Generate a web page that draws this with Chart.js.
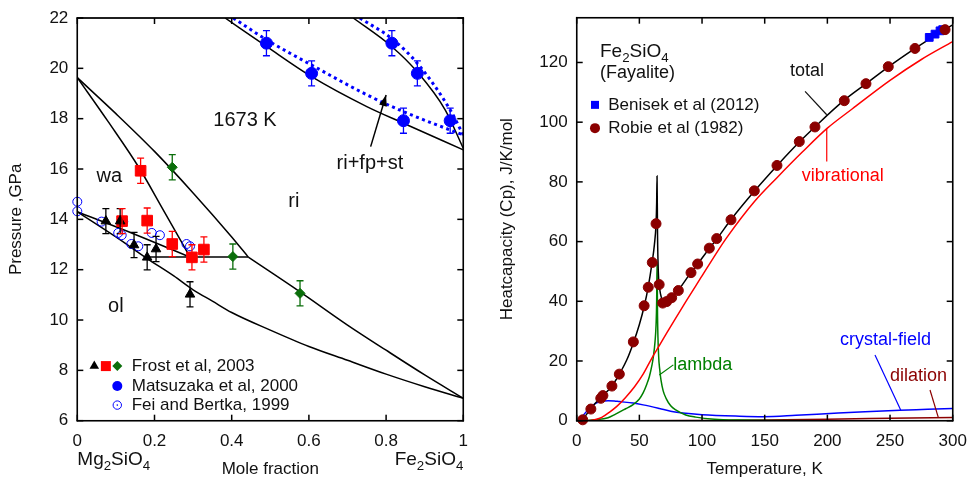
<!DOCTYPE html>
<html><head><meta charset="utf-8">
<script src="https://cdn.jsdelivr.net/npm/chart.js@4.4.0/dist/chart.umd.min.js"></script>
<style>
html,body{margin:0;padding:0;background:#fff;}
#wrap{position:relative;width:968px;height:478px;overflow:hidden;background:#fff;}
#c1{position:absolute;left:0;top:0;}
#c2{position:absolute;left:480px;top:0;}
</style></head><body>
<div id="wrap"><canvas id="c1" width="480" height="478"></canvas><canvas id="c2" width="488" height="478"></canvas></div>
<script>
// ---------- LEFT PANEL DATA (mole fraction Fe2SiO4, pressure GPa) ----------
const xTicksL = [0, 0.2, 0.4, 0.6, 0.8, 1];
const yTicksL = [6, 8, 10, 12, 14, 16, 18, 20, 22];
const frostTriX = [0.074, 0.111, 0.147, 0.181, 0.204, 0.292];
const frostTriP = [13.93, 13.93, 12.98, 12.49, 12.82, 11.02];
const frostTriErr = [0.5, 0.5, 0.5, 0.5, 0.5, 0.5];
const frostSqX = [0.116, 0.164, 0.181, 0.246, 0.297, 0.328];
const frostSqP = [13.93, 15.93, 13.95, 13.02, 12.49, 12.80];
const frostSqErr = [0.5, 0.5, 0.5, 0.5, 0.5, 0.5];
const frostDiaX = [0.246, 0.403, 0.577];
const frostDiaP = [16.07, 12.52, 11.06];
const frostDiaErr = [0.5, 0.5, 0.5];
const matsuX = [0.49, 0.607, 0.845, 0.815, 0.881, 0.966];
const matsuP = [21.0, 19.8, 17.92, 21.0, 19.8, 17.92];
const matsuErr = [0.5, 0.5, 0.5, 0.5, 0.5, 0.5];
const feiX = [0, 0, 0.063, 0.119, 0.106, 0.115, 0.140, 0.158, 0.193, 0.214, 0.283, 0.292];
const feiP = [14.7, 14.32, 13.91, 13.91, 13.46, 13.37, 13.02, 12.93, 13.46, 13.37, 13.02, 12.93];
// phase boundaries
const waRiUpperX = [0, 0.1, 0.2, 0.3, 0.4, 0.443];
const waRiUpperP = [19.63, 18.2, 16.7, 15.05, 13.3, 12.5];
const waRiLowerX = [0, 0.08, 0.16, 0.22, 0.292];
const waRiLowerP = [19.63, 17.88, 16.05, 14.45, 12.5];
const olWaUpperX = [0, 0.15, 0.292];
const olWaUpperP = [14.3, 13.4, 12.5];
const olLowerX = [0, 0.1, 0.18, 0.25, 0.3, 0.35, 0.4, 0.5, 0.6, 0.7, 0.8, 0.9, 1];
const olLowerP = [14.3, 13.3, 12.45, 11.75, 11.2, 10.75, 10.3, 9.6, 8.95, 8.4, 7.85, 7.35, 6.89];
const threePhaseX = [0.175, 0.443];
const threePhaseP = [12.5, 12.5];
const riBoundX = [0.443, 0.577, 0.7, 0.8, 0.9, 1];
const riBoundP = [12.5, 11.12, 9.8, 8.8, 7.82, 6.89];
const riStAX = [0.383, 0.491, 0.607, 0.75, 0.845, 1];
const riStAP = [22, 20.86, 19.67, 18.48, 17.82, 16.76];
const riStBX = [0.715, 0.815, 0.88, 0.953, 1];
const riStBP = [22, 20.86, 19.87, 18.35, 16.82];
const dotAX = [0.404, 0.491, 0.607, 0.75, 0.845, 1];
const dotAP = [22, 21.13, 20.13, 18.95, 18.28, 17.35];
const dotBX = [0.732, 0.819, 0.888, 0.966, 1];
const dotBP = [22, 21.13, 20.07, 18.35, 17.35];

// ---------- RIGHT PANEL DATA (T in K, Cp in J/K/mol) ----------
const xTicksR = [0, 50, 100, 150, 200, 250, 300];
const yTicksR = [0, 20, 40, 60, 80, 100, 120];
const robieT = [4.8, 11.3, 19.2, 20.9, 28.1, 34, 45.2, 53.8, 57.1, 60.3, 63.3, 65.8, 68.6, 71.8, 75.8, 81.1, 91.2, 96.5, 105.8, 111.7, 123.1, 141.7, 159.8, 177.6, 190.1, 213.5, 230.8, 248.6, 269.9, 293.9];
const robieCp = [0.3, 3.9, 7.5, 8.4, 11.6, 15.6, 26.4, 38.5, 44.7, 53, 66, 45.6, 39.4, 39.9, 41.2, 43.6, 49.6, 52.5, 57.8, 61, 67.3, 77, 85.5, 93.5, 98.4, 107.2, 112.9, 118.6, 124.7, 131];
const benisekT = [281.3, 285.9, 289.9, 292];
const benisekCp = [128.4, 129.5, 130.6, 131];
const totalT = [3, 5, 8, 11, 15, 20, 25, 30, 35, 40, 45, 50, 54, 57, 60, 62, 63.3, 63.8, 64.1, 64.5, 65.1, 65.8, 66.8, 68.3, 70.5, 73, 76, 81, 86, 91, 96.5, 106, 112, 123, 142, 160, 178, 190, 213, 231, 249, 270, 290, 300];
const totalCp = [0, 0.6, 2.2, 4, 5.9, 8.1, 10.1, 12.8, 16.3, 20.4, 25.8, 32.2, 38.6, 44.7, 52.5, 59, 66, 73, 82, 62, 50, 45.6, 42.6, 40.5, 39.7, 40.1, 41.2, 43.6, 46.6, 49.6, 52.5, 57.8, 61, 67.3, 77, 85.5, 93.5, 98.4, 107.2, 112.9, 118.6, 124.7, 130.1, 132.6];
const vibT = [0, 8, 15, 20, 26, 32, 39, 46, 53, 60, 66, 72, 85, 100, 112, 120, 142, 160, 180, 200, 220, 250, 275, 300];
const vibCp = [0, 0, 0.4, 1.1, 2.8, 4.8, 7.8, 11.3, 15.6, 21, 25.2, 29.5, 38.5, 48.5, 56.5, 61.5, 73.5, 81.5, 90, 98, 104.5, 114, 121, 127];
const lambdaT = [5, 15, 25, 31, 39, 45, 50, 53, 56, 58, 60, 61.2, 62.5, 63.3, 63.8, 64.1, 64.5, 65.4, 66.3, 67.3, 69, 71.3, 75, 79, 87, 95, 110, 130, 160, 200, 300];
const lambdaCp = [0, 0.3, 1, 2.2, 4, 5.4, 7.3, 9.3, 12.3, 14.8, 18.5, 21.5, 26.5, 32, 40, 53, 35, 21.5, 17, 13.5, 10, 7.5, 5, 3.6, 1.9, 1.2, 0.5, 0.2, 0.05, 0, 0];
const cfT = [2, 3, 6, 10, 15, 20, 25, 30, 34, 45, 53, 66, 75, 87, 100, 130, 149, 175, 202, 230, 258, 280, 300];
const cfCp = [0, 0.5, 2.2, 4.1, 5.8, 6.5, 6.7, 6.6, 6.4, 5.9, 5.3, 4.1, 3.2, 2.5, 2.0, 1.5, 1.35, 1.8, 2.4, 3.0, 3.5, 3.8, 4.1];
const dilT = [0, 50, 100, 150, 200, 250, 300];
const dilCp = [0, 0, 0.1, 0.25, 0.5, 0.8, 1.1];

// ---------- helpers ----------
const FONT = '"Liberation Sans", Arial, Helvetica, sans-serif';
Chart.defaults.font.family = FONT;
Chart.defaults.color = '#111';
const pts = (xs, ys) => xs.map((x, i) => ({x: x, y: ys[i]}));

function drawRich(ctx, str, x, y, size, color, align) {
  const parts = [];
  for (let i = 0; i < str.length; i++) {
    if (str[i] === '_') { parts.push({t: str[i + 1], sub: true}); i++; }
    else if (parts.length && !parts[parts.length - 1].sub) parts[parts.length - 1].t += str[i];
    else parts.push({t: str[i], sub: false});
  }
  const sub = size * 0.7;
  let w = 0;
  parts.forEach(p => { ctx.font = (p.sub ? sub : size) + 'px ' + FONT; p.w = ctx.measureText(p.t).width; w += p.w; });
  let cx = align === 'right' ? x - w : align === 'center' ? x - w / 2 : x;
  ctx.fillStyle = color; ctx.textAlign = 'left'; ctx.textBaseline = 'alphabetic';
  parts.forEach(p => { ctx.font = (p.sub ? sub : size) + 'px ' + FONT; ctx.fillText(p.t, cx, p.sub ? y + size * 0.28 : y); cx += p.w; });
}

function marker(ctx, style, x, y, r, fill, stroke) {
  ctx.save();
  ctx.beginPath();
  if (style === 'triangle') { ctx.moveTo(x, y - r); ctx.lineTo(x + r * 0.866, y + r * 0.5); ctx.lineTo(x - r * 0.866, y + r * 0.5); ctx.closePath(); }
  else if (style === 'rect') { ctx.rect(x - r, y - r, 2 * r, 2 * r); }
  else if (style === 'rectRot') { ctx.moveTo(x, y - r); ctx.lineTo(x + r, y); ctx.lineTo(x, y + r); ctx.lineTo(x - r, y); ctx.closePath(); }
  else { ctx.arc(x, y, r, 0, Math.PI * 2); }
  if (fill) { ctx.fillStyle = fill; ctx.fill(); }
  if (stroke) { ctx.strokeStyle = stroke; ctx.lineWidth = 1; ctx.stroke(); }
  ctx.restore();
}

// frame box + inward ticks on all four sides
function drawFrame(ctx, chart) {
  const a = chart.chartArea, x = chart.scales.x, y = chart.scales.y;
  const w = 1.5, h = w / 2, TL = 6;
  ctx.save();
  ctx.globalAlpha = 1; ctx.globalCompositeOperation = 'source-over'; ctx.setLineDash([]);
  ctx.fillStyle = '#000000';
  ctx.fillRect(a.left - h, a.top - h, a.right - a.left + w, w);
  ctx.fillRect(a.left - h, a.bottom - h, a.right - a.left + w, w);
  ctx.fillRect(a.left - h, a.top - h, w, a.bottom - a.top + w);
  ctx.fillRect(a.right - h, a.top - h, w, a.bottom - a.top + w);
  ctx.strokeStyle = '#000000'; ctx.lineWidth = 1;
  ctx.strokeRect(a.left, a.top, a.right - a.left, a.bottom - a.top);
  x.ticks.forEach(t => {
    const px = x.getPixelForValue(t.value);
    ctx.fillRect(px - h, a.bottom - TL, w, TL);
    ctx.fillRect(px - h, a.top, w, TL);
  });
  y.ticks.forEach(t => {
    const py = y.getPixelForValue(t.value);
    ctx.fillRect(a.left, py - h, TL, w);
    ctx.fillRect(a.right - TL, py - h, TL, w);
  });
  ctx.restore();
}

const errorBarPlugin = {
  id: 'errbars',
  afterDatasetsDraw(chart) {
    const ctx = chart.ctx, x = chart.scales.x, y = chart.scales.y;
    chart.data.datasets.forEach(ds => {
      if (!ds.errors) return;
      ctx.save(); ctx.strokeStyle = ds.errorColor; ctx.lineWidth = 1.3; ctx.setLineDash([]);
      ds.data.forEach((p, j) => {
        const e = ds.errors[j];
        const px = x.getPixelForValue(p.x), y1 = y.getPixelForValue(p.y - e), y2 = y.getPixelForValue(p.y + e);
        ctx.beginPath(); ctx.moveTo(px, y1); ctx.lineTo(px, y2);
        ctx.moveTo(px - 3.5, y1); ctx.lineTo(px + 3.5, y1); ctx.moveTo(px - 3.5, y2); ctx.lineTo(px + 3.5, y2); ctx.stroke();
      });
      ctx.restore();
    });
  }
};

function annotPlugin(drawFn) {
  return { id: 'annot', afterDraw(chart) { const ctx = chart.ctx; ctx.save(); drawFn(ctx, chart.scales.x, chart.scales.y, chart); ctx.restore(); drawFrame(ctx, chart); } };
}

function lineDS(xs, ys, color, width, extra) {
  return Object.assign({data: pts(xs, ys), showLine: true, borderColor: color, backgroundColor: color, borderWidth: width, pointRadius: 0, cubicInterpolationMode: 'monotone', order: 10}, extra || {});
}
function ptDS(xs, ys, style, r, fill, stroke, extra) {
  return Object.assign({data: pts(xs, ys), showLine: false, pointStyle: style, pointRadius: r, pointBackgroundColor: fill, pointBorderColor: stroke, pointBorderWidth: 1, clip: false, order: 1}, extra || {});
}

function scaleOpts(min, max, ticks, size, title, titlePad, isX) {
  return {
    type: 'linear', min: min, max: max,
    afterBuildTicks: s => { s.ticks = ticks.map(v => ({value: v})); },
    afterFit: s => {
      if (isX) { s.height = size; s.paddingLeft = 0; s.paddingRight = 0; }
      else { s.width = size; s.paddingTop = 0; s.paddingBottom = 0; }
    },
    grid: {display: false, drawTicks: false}, border: {display: false},
    ticks: {padding: isX ? 10 : 9, color: '#111', font: {size: 17}, maxRotation: 0, autoSkip: false, callback: v => String(v)},
    title: {display: true, text: title, color: '#111', font: {size: 17, lineHeight: isX ? 1 : 1.2}, padding: titlePad}
  };
}

// ---------- LEFT CHART ----------
const RED = '#ff0000', GREEN = '#0b6e0b', BLUE = '#0000ff', DRED = '#8b0000';
new Chart(document.getElementById('c1'), {
  type: 'scatter',
  data: {datasets: [
    ptDS(frostTriX, frostTriP, 'triangle', 5.5, '#000', '#000', {errors: frostTriErr, errorColor: '#000'}),
    ptDS(frostSqX, frostSqP, 'rect', 7.5, RED, RED, {errors: frostSqErr, errorColor: RED}),
    ptDS(frostDiaX, frostDiaP, 'rectRot', 5, GREEN, GREEN, {errors: frostDiaErr, errorColor: GREEN}),
    ptDS(matsuX, matsuP, 'circle', 6, BLUE, BLUE, {errors: matsuErr, errorColor: BLUE}),
    ptDS(feiX, feiP, 'circle', 4.5, 'rgba(0,0,0,0)', BLUE),
    lineDS(dotAX, dotAP, BLUE, 3, {borderDash: [3, 3.5]}),
    lineDS(dotBX, dotBP, BLUE, 3, {borderDash: [3, 3.5]}),
    lineDS(waRiUpperX, waRiUpperP, '#000', 1.5),
    lineDS(waRiLowerX, waRiLowerP, '#000', 1.5),
    lineDS(olWaUpperX, olWaUpperP, '#000', 1.5),
    lineDS(olLowerX, olLowerP, '#000', 1.5),
    lineDS(threePhaseX, threePhaseP, '#000', 1.5),
    lineDS(riBoundX, riBoundP, '#000', 1.5),
    lineDS(riStAX, riStAP, '#000', 1.5),
    lineDS(riStBX, riStBP, '#000', 1.5)
  ]},
  options: {
    responsive: false, animation: false, devicePixelRatio: 1,
    layout: {padding: {top: 18, right: 16.7, left: 0, bottom: 0}},
    plugins: {legend: {display: false}, tooltip: {enabled: false}},
    scales: {
      x: scaleOpts(0, 1, xTicksL, 57.3, 'Mole fraction', {top: 0, bottom: 0}, true),
      y: scaleOpts(6, 22, yTicksL, 77.3, 'Pressure ,GPa', {top: 6.5, bottom: 0}, false)
    }
  },
  plugins: [errorBarPlugin, annotPlugin((ctx, x, y, chart) => {
    const X = v => x.getPixelForValue(v), Y = v => y.getPixelForValue(v);
    ctx.fillStyle = '#111'; ctx.textBaseline = 'middle'; ctx.textAlign = 'center';
    ctx.font = '20px ' + FONT;
    ctx.fillText('1673 K', X(0.4345), Y(17.92));
    ctx.fillText('wa', X(0.083), Y(15.7));
    ctx.fillText('ri', X(0.561), Y(14.7));
    ctx.fillText('ol', X(0.1), Y(10.53));
    ctx.fillText('ri+fp+st', X(0.758), Y(16.23));
    // arrow
    const x1 = X(0.760), y1 = Y(16.89), x2 = X(0.80), y2 = Y(18.94);
    ctx.strokeStyle = '#000'; ctx.lineWidth = 1.5;
    ctx.beginPath(); ctx.moveTo(x1, y1); ctx.lineTo(x2, y2); ctx.stroke();
    const ang = Math.atan2(y2 - y1, x2 - x1), hl = 11, hw = 4;
    ctx.beginPath(); ctx.moveTo(x2, y2);
    ctx.lineTo(x2 - hl * Math.cos(ang) + hw * Math.sin(ang), y2 - hl * Math.sin(ang) - hw * Math.cos(ang));
    ctx.lineTo(x2 - hl * Math.cos(ang) - hw * Math.sin(ang), y2 - hl * Math.sin(ang) + hw * Math.cos(ang));
    ctx.closePath(); ctx.fillStyle = '#000'; ctx.fill();
    // legend
    marker(ctx, 'triangle', X(0.044), Y(8.17), 5.5, '#000', null);
    marker(ctx, 'rect', X(0.074), Y(8.17), 5, RED, null);
    marker(ctx, 'rectRot', X(0.1036), Y(8.17), 5, GREEN, null);
    marker(ctx, 'circle', X(0.1036), Y(7.38), 5, BLUE, null);
    marker(ctx, 'circle', X(0.1036), Y(6.62), 4.2, null, BLUE);
    marker(ctx, 'circle', X(0.1036), Y(6.62), 0.8, BLUE, null);
    ctx.font = '17px ' + FONT; ctx.textAlign = 'left'; ctx.textBaseline = 'middle'; ctx.fillStyle = '#111';
    ctx.fillText('Frost et al, 2003', X(0.141), Y(8.17));
    ctx.fillText('Matsuzaka et al, 2000', X(0.141), Y(7.38));
    ctx.fillText('Fei and Bertka, 1999', X(0.141), Y(6.62));
    // end-member labels
    drawRich(ctx, 'Mg_2SiO_4', X(0), 465, 19, '#111', 'left');
    drawRich(ctx, 'Fe_2SiO_4', X(1), 465, 19, '#111', 'right');
  })]
});

// ---------- RIGHT CHART ----------
new Chart(document.getElementById('c2'), {
  type: 'scatter',
  data: {datasets: [
    ptDS(robieT, robieCp, 'circle', 5, DRED, DRED),
    ptDS(benisekT, benisekCp, 'rect', 5.5, BLUE, BLUE, {order: 2}),
    lineDS(totalT, totalCp, '#000', 1.5, {order: 5}),
    lineDS(vibT, vibCp, '#ff0000', 1.5, {order: 6}),
    lineDS(lambdaT, lambdaCp, '#008000', 1.5, {order: 7}),
    lineDS(cfT, cfCp, '#0000ff', 1.5, {order: 8}),
    lineDS(dilT, dilCp, DRED, 1.5, {order: 9})
  ]},
  options: {
    responsive: false, animation: false, devicePixelRatio: 1,
    layout: {padding: {top: 17.7, right: 15.3, left: 0, bottom: 0}},
    plugins: {legend: {display: false}, tooltip: {enabled: false}},
    scales: {
      x: scaleOpts(0, 300, xTicksR, 57.3, 'Temperature, K', {top: 0, bottom: 0}, true),
      y: scaleOpts(0, 135, yTicksR, 96.7, 'Heatcapacity (Cp), J/K/mol', {top: 17.3, bottom: 0}, false)
    }
  },
  plugins: [annotPlugin((ctx, x, y) => {
    const X = v => x.getPixelForValue(v), Y = v => y.getPixelForValue(v);
    drawRich(ctx, 'Fe_2SiO_4', X(18.6), Y(121.9), 19, '#111', 'left');
    ctx.font = '18px ' + FONT; ctx.textAlign = 'left'; ctx.textBaseline = 'middle'; ctx.fillStyle = '#111';
    ctx.fillText('(Fayalite)', X(18.6), Y(116.5));
    marker(ctx, 'rect', X(14.6), Y(105.8), 4, BLUE, null);
    marker(ctx, 'circle', X(14.6), Y(98), 5, DRED, null);
    ctx.font = '17px ' + FONT; ctx.fillStyle = '#111';
    ctx.fillText('Benisek et al (2012)', X(25.2), Y(105.8));
    ctx.fillText('Robie et al (1982)', X(25.2), Y(98));
    const label = (t, tx, ty, col, lx1, ly1, lx2, ly2) => {
      ctx.font = '18px ' + FONT; ctx.fillStyle = col; ctx.textAlign = 'left'; ctx.textBaseline = 'middle';
      ctx.fillText(t, X(tx), Y(ty));
      ctx.strokeStyle = col; ctx.lineWidth = 1.2;
      ctx.beginPath(); ctx.moveTo(X(lx1), Y(ly1)); ctx.lineTo(X(lx2), Y(ly2)); ctx.stroke();
    };
    label('total', 170.2, 117, '#111', 182.2, 110.3, 199.5, 102.5);
    label('vibrational', 179.5, 81.8, '#ff0000', 199.5, 98, 199.5, 86.8);
    label('lambda', 77.1, 18.7, '#008000', 65.9, 15.3, 77.1, 18.7);
    label('crystal-field', 210, 27, '#0000ff', 238, 22, 258.5, 3.6);
    label('dilation', 250, 14.8, DRED, 281.9, 10.3, 288.5, 1.1);
  })]
});
</script>
</body></html>
